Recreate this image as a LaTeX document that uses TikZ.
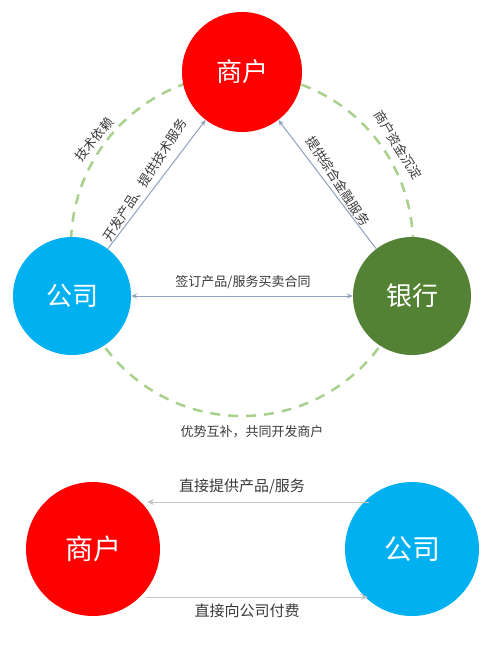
\documentclass[tikz,border=0pt]{standalone}
\usepackage{fontspec}
\setmainfont{Noto Sans CJK SC}
\usetikzlibrary{arrows.meta}
\definecolor{cred}{HTML}{FF0000}
\definecolor{cblue}{HTML}{00B0F0}
\definecolor{cgreen}{HTML}{548235}
\definecolor{dashgreen}{HTML}{A9D18E}
\definecolor{arrowblue}{HTML}{8FA2BF}
\definecolor{arrowgray}{HTML}{C4C4C4}
\definecolor{txt}{HTML}{3A3A3A}
\begin{document}
\begin{tikzpicture}[x=1pt,y=-1pt,
  party/.style={circle,inner sep=0pt,minimum size=#1,text=white},
  bigtxt/.style={font=\fontsize{26}{28}\selectfont},
  hugetxt/.style={font=\fontsize{28}{30}\selectfont},
  lbl/.style={text=txt,inner sep=0pt,font=\fontsize{13}{14}\selectfont},
  lblb/.style={text=txt,inner sep=0pt,font=\fontsize{15}{16}\selectfont},
  flow/.style={draw=arrowblue,line width=1pt,-{Stealth[length=6pt,width=5pt]}},
  flowb/.style={draw=arrowblue,line width=1pt,{Stealth[length=6pt,width=5pt]}-{Stealth[length=6pt,width=5pt]}},
  gflow/.style={draw=arrowgray,line width=1pt,-{Stealth[length=7pt,width=6pt]}},
  ring/.style={draw=dashgreen,line width=2.5pt,dash pattern=on 10pt off 8pt}
]
\useasboundingbox (0,0) rectangle (494,657);
\fill[white] (0,0) rectangle (494,657);
% dashed ring
\coordinate (rc) at (242,245);
\draw[ring] (rc) circle[radius=171pt];
% top triangle nodes
\node[party=120pt,fill=cred,bigtxt] (m1) at (242,72) {商户};
\node[party=118pt,fill=cblue,bigtxt] (c1) at (72,296) {公司};
\node[party=118pt,fill=cgreen,bigtxt] (b1) at (412,296) {银行};
% connectors
\draw[flow] (c1) -- (m1);
\draw[flow] (b1) -- (m1);
\draw[flowb] (c1) -- (b1);
% labels
\node[lbl,rotate=57] (l1) at (145,180) {开发产品、提供技术服务};
\node[lbl,rotate=-57] (l2) at (338,181) {提供综合金融服务};
\node[lbl] (l3) at (243,282) {签订产品/服务买卖合同};
\node[lbl,rotate=50] (l4) at (94,139) {技术依赖};
\node[lbl,rotate=-58] (l5) at (398,145) {商户资金沉淀};
\node[lbl] (l6) at (252,432) {优势互补，共同开发商户};
% bottom part
\node[party=134pt,fill=cred,hugetxt] (m2) at (93,549) {商户};
\node[party=134pt,fill=cblue,hugetxt] (c2) at (412,549) {公司};
\coordinate (t1) at (369,502);
\coordinate (t2) at (147,502);
\coordinate (u1) at (146,597);
\coordinate (u2) at (368,597);
\draw[gflow] (t1) -- (t2);
\draw[gflow] (u1) -- (u2);
\node[lblb] (l7) at (242,487) {直接提供产品/服务};
\node[lblb] (l8) at (247,611) {直接向公司付费};
\end{tikzpicture}
\end{document}
